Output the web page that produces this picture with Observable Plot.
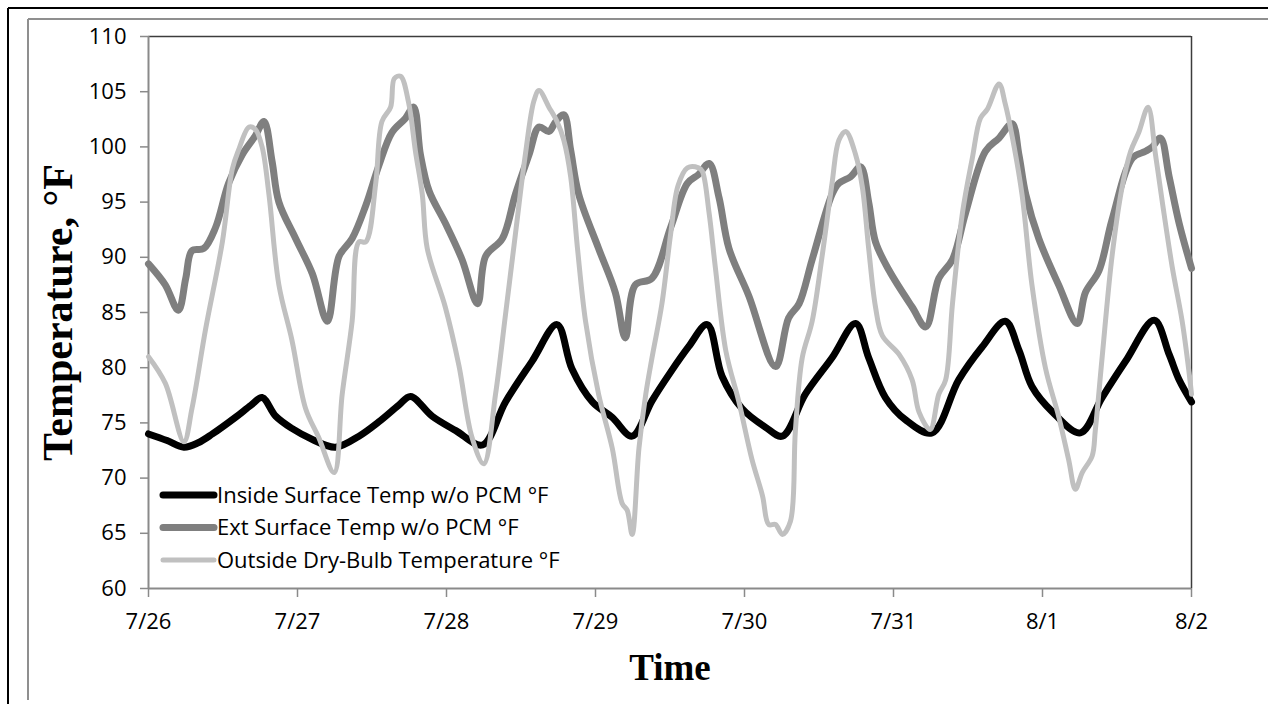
<!DOCTYPE html>
<html><head><meta charset="utf-8">
<script src="https://cdn.jsdelivr.net/npm/d3@7"></script>
<script src="https://cdn.jsdelivr.net/npm/@observablehq/plot@0.6"></script>
<style>
html,body{margin:0;padding:0;background:#fff;}
#wrap{position:relative;width:1268px;height:704px;overflow:hidden;background:#fff;}
#wrap svg{position:absolute;left:0;top:0;}
</style></head><body><div id="wrap"></div>
<script>
// ---- data ----
const dayTicks = [0, 24, 48, 72, 96, 120, 144, 168];
const dayLabels = ["7/26", "7/27", "7/28", "7/29", "7/30", "7/31", "8/1", "8/2"];
const yTicks = [60, 65, 70, 75, 80, 85, 90, 95, 100, 105, 110];
const seriesNames = ["Inside Surface Temp w/o PCM °F", "Ext Surface Temp w/o PCM °F", "Outside Dry-Bulb Temperature °F"];

const insideHours = [0,3,5.7,8,10.3,14,16.5,18.3,20.5,23.1,26.4,30.1,33.9,37.1,40.3,42.2,45.7,49.5,53.8,57.5,61.8,65.8,68.2,71.5,74.7,77.9,81.1,84.1,87,90,92.4,95.6,99.4,102.1,105.8,110.1,113.9,116,118.7,121.9,126.2,130.5,134.3,138,140.2,142.3,145.6,150.1,153.6,157.4,162,164.4,166,168];
const insideTemps = [74.0,73.4,72.8,73.2,74.0,75.5,76.6,77.3,75.6,74.5,73.5,72.8,73.8,75.1,76.6,77.4,75.6,74.3,73.0,76.9,80.6,83.9,79.9,76.9,75.5,73.8,77.0,79.6,81.9,83.9,79.2,76.3,74.6,73.8,77.6,80.9,84.0,80.9,77.3,75.3,74.1,78.9,81.9,84.2,81.6,78.3,76.0,74.1,77.3,80.6,84.3,81.2,78.9,76.9];

const extHours = [0,2.7,4.8,6,7,8.9,10.8,12.9,15.1,17.2,18.6,19.9,21,23.7,26.4,28.8,30.7,32.8,35,37.1,39.2,41.4,42.7,43.8,45.2,47.8,50.5,53,54.3,57,59.1,61.3,62.9,64.5,65.6,66.9,68,69.3,72.5,75.2,76.8,78.4,81.1,84.1,86.8,88.6,90.3,91.9,93.5,96.7,101,103.1,104.8,106.9,110.1,111.2,113.1,114.7,116,117.1,119.3,123,125.2,127.3,129.5,131.6,134.8,137,139.1,140.2,141.3,143.4,146.6,149.6,150.9,153.1,155.2,158.5,160.6,161.7,163,164.4,166,168];
const extTemps = [89.4,87.5,85.2,88.1,90.6,90.8,92.7,96.7,99.3,101.0,102.3,98.7,95.0,91.7,88.5,84.2,90.1,91.7,94.7,98.3,101.3,102.6,103.6,99.3,96.0,93.1,89.8,85.8,90.1,91.7,95.7,99.3,101.8,101.4,102.3,102.9,99.7,95.7,90.8,86.8,82.7,87.5,88.1,92.7,96.7,97.5,98.5,95.4,90.8,86.5,80.1,84.5,85.8,89.8,95.7,96.7,97.3,98.2,95.0,91.4,88.8,85.5,83.7,88.1,89.8,94.0,99.6,100.8,102.1,99.3,95.7,91.7,87.5,84.0,86.8,88.8,93.4,99.0,99.6,100.0,100.8,97.3,93.1,89.0];

const outsideHours = [0,2.7,5.7,7,9.2,11.9,13.5,14.5,16.2,17.2,18.3,19.4,21,23.1,25.3,27.4,29.9,31.2,32.8,33.9,35,36.6,37.6,39,39.6,40.6,41.9,43,44.1,44.9,47.8,50,52.1,54,55.9,57.5,59.1,60.7,62.1,62.9,64.5,65.8,66.9,68,69.1,70.4,72.5,74.7,76.3,77.1,77.9,79,80.1,81.1,82.7,84.1,85.3,86.8,88.6,89.2,90.3,91.3,93,95.1,97.2,98.9,99.9,101,102.1,103.4,104.2,105.3,106.9,108.5,110.1,111.2,112.3,113.9,115,116,117.1,118.2,120.9,123,124.1,125.9,127.3,128.4,129.5,131.1,132.7,134,135.1,137,138,139.1,140.7,142.3,144.5,146.6,148.2,149.3,150.4,152,152.5,153.6,155.2,156.8,158.2,159.5,161,162.2,163.3,164.9,166.5,167.6,168];
const outsideTemps = [81.0,78.6,73.3,76.3,83.5,91.4,98.0,99.7,101.8,101.6,100.0,95.7,87.5,82.5,76.3,73.7,70.5,77.6,84.2,91.4,91.4,96.7,102.3,103.6,106.2,106.4,104.0,99.6,95.7,90.8,85.5,80.2,73.7,71.3,77.6,84.8,92.1,99.3,104.2,105.1,103.6,102.3,100.6,97.3,90.8,84.2,77.6,72.7,67.7,67.1,64.9,72.7,77.6,80.9,85.8,92.1,96.5,98.1,98.1,97.8,94.0,89.1,81.5,76.9,71.7,68.4,65.8,65.8,64.9,66.1,74.3,80.9,84.2,90.1,96.7,100.6,101.4,99.3,96.3,90.8,85.5,82.9,81.2,78.9,76.0,74.4,77.6,78.9,85.8,94.0,99.0,102.6,103.4,105.7,103.9,101.0,95.7,87.5,79.9,75.6,71.7,69.0,70.5,72.0,74.3,80.9,90.1,96.3,99.6,101.3,103.6,99.3,95.0,89.1,84.2,79.6,77.6];

// ---- styles ----
const seriesColors = ["#000000", "#7f7f7f", "#c0c0c0"];
const seriesWidths = [7, 7, 5];

const seriesData = [
  [insideHours, insideTemps],
  [extHours, extTemps],
  [outsideHours, outsideTemps]
].map(([hs, ts], i) => hs.map((h, j) => ({series: seriesNames[i], hour: h, temp: ts[j]})));

const lineMarks = seriesData.map((rows, i) =>
  Plot.line(rows, {x: "hour", y: "temp", stroke: seriesColors[i], strokeWidth: seriesWidths[i], curve: "catmull-rom", strokeLinejoin: "round", strokeLinecap: "round"})
);

const chart = Plot.plot({
  width: 1268, height: 704,
  marginLeft: 148, marginRight: 77, marginTop: 36, marginBottom: 116,
  style: {fontFamily: "'Open Sans', sans-serif", fontSize: "22px", color: "#000", background: "transparent", overflow: "visible"},
  x: {domain: [0, 168]},
  y: {domain: [60, 110]},
  marks: [
    Plot.ruleY([110], {stroke: "#3c3c3c", strokeWidth: 1.5}),
    Plot.ruleX([168], {stroke: "#3c3c3c", strokeWidth: 1.5}),
    Plot.ruleX([0], {stroke: "#8a8a8a", strokeWidth: 2}),
    Plot.ruleY([60], {stroke: "#8a8a8a", strokeWidth: 2}),
    Plot.axisY({ticks: yTicks, tickSize: 8, tickPadding: 14, stroke: "#8a8a8a", strokeWidth: 1.5, fill: "#000", label: null, fontSize: 22}),
    Plot.axisX({ticks: dayTicks, tickFormat: d => dayLabels[dayTicks.indexOf(d)], tickSize: 9, tickPadding: 16, stroke: "#8a8a8a", strokeWidth: 1.5, fill: "#000", label: null, fontSize: 22}),
    ...lineMarks,
    Plot.text(["Time"], {text: d => d, frameAnchor: "bottom", dy: 80, fontFamily: "'Liberation Serif', 'Times New Roman', serif", fontWeight: "bold", fontSize: 37, fill: "#000", lineAnchor: "middle", textAnchor: "middle"}),
    Plot.text(["Temperature, °F"], {text: d => d, frameAnchor: "left", dx: -90, rotate: -90, fontFamily: "'Liberation Serif', 'Times New Roman', serif", fontWeight: "bold", fontSize: 42, fill: "#000", lineAnchor: "middle", textAnchor: "middle"})
  ]
});
document.getElementById("wrap").appendChild(chart);

// ---- frame and legend overlay ----
const ov = d3.select("#wrap").append("svg").attr("width", 1268).attr("height", 704);
ov.append("line").attr("x1", 8).attr("y1", 8).attr("x2", 1268).attr("y2", 8).attr("stroke", "#000").attr("stroke-width", 2);
ov.append("line").attr("x1", 8).attr("y1", 8).attr("x2", 8).attr("y2", 704).attr("stroke", "#000").attr("stroke-width", 2);
ov.append("line").attr("x1", 28).attr("y1", 19).attr("x2", 1268).attr("y2", 19).attr("stroke", "#8f8f8f").attr("stroke-width", 2);
ov.append("line").attr("x1", 28).attr("y1", 19).attr("x2", 28).attr("y2", 700).attr("stroke", "#8f8f8f").attr("stroke-width", 2);

const lg = ov.append("g").attr("font-family", "'Open Sans', sans-serif").attr("font-size", 22);
seriesNames.forEach((name, i) => {
  const y = 495 + i * 32.5;
  lg.append("line").attr("x1", 163).attr("x2", 214).attr("y1", y).attr("y2", y)
    .attr("stroke", seriesColors[i]).attr("stroke-width", seriesWidths[i]).attr("stroke-linecap", "round");
  lg.append("text").attr("x", 217).attr("y", y).attr("dy", "0.35em").attr("fill", "#000").text(name);
});
</script>
</body></html>
